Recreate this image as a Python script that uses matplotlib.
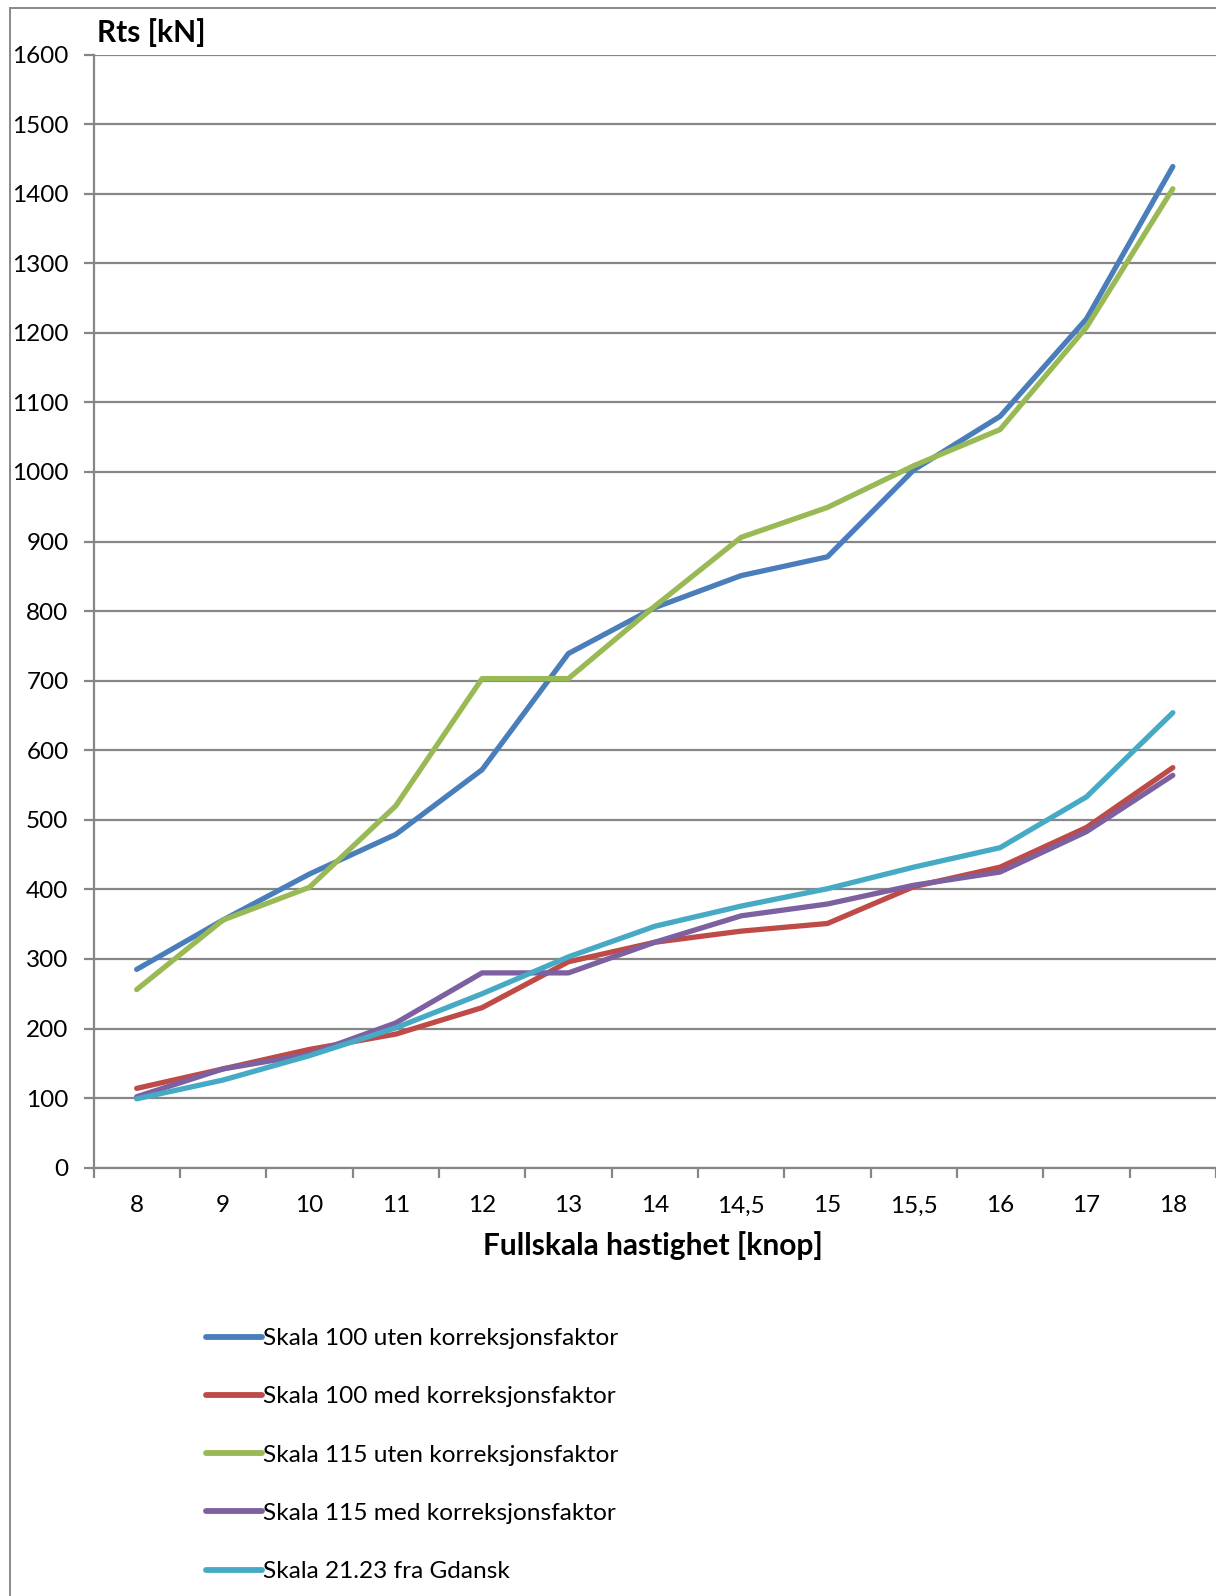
import matplotlib.pyplot as plt
from matplotlib.lines import Line2D

plt.rcParams['font.family'] = ['Lato', 'DejaVu Sans']

hastighet = ['8', '9', '10', '11', '12', '13', '14', '14,5', '15', '15,5', '16', '17', '18']

s100_uten = [285, 356, 422, 479, 572, 739, 805, 851, 878, 1003, 1080, 1220, 1439]
s100_med = [114, 142, 170, 192, 230, 296, 324, 340, 351, 404, 432, 489, 575]
s115_uten = [256, 356, 403, 520, 703, 703, 807, 906, 949, 1009, 1061, 1208, 1407]
s115_med = [102, 142, 163, 208, 280, 280, 324, 362, 379, 406, 425, 483, 564]
gdansk = [99, 126, 161, 201, 250, 303, 347, 376, 401, 432, 460, 533, 654]

serier = [
    ("Skala 100 uten korreksjonsfaktor", s100_uten, '#4A7EBB'),
    ("Skala 100 med korreksjonsfaktor", s100_med, '#BE4B48'),
    ("Skala 115 uten korreksjonsfaktor", s115_uten, '#98B954'),
    ("Skala 115 med korreksjonsfaktor", s115_med, '#7D60A0'),
    ("Skala 21.23 fra Gdansk", gdansk, '#46AAC5'),
]

W, H = 1216, 1596
fig = plt.figure(figsize=(W / 100, H / 100), dpi=100)
ax = fig.add_axes([93.5 / W, 1 - 1167.7 / H, 1 - 93.5 / W, (1167.7 - 54.5) / H])

x = list(range(len(hastighet)))
for navn, verdier, farge in serier:
    ax.plot(x, verdier, color=farge, lw=3.8, label=navn, solid_capstyle='round',
            solid_joinstyle='round', zorder=3)

grid_col = '#868686'
ax.set_xlim(-0.5, len(hastighet) - 0.5)
ax.set_ylim(0, 1600)
ax.set_yticks(range(0, 1601, 100))
ax.yaxis.grid(True, color=grid_col, lw=1.6)
ax.set_axisbelow(True)
ax.set_xticks(x)
ax.set_xticklabels(hastighet)
ax.set_xticks([i - 0.5 for i in range(len(hastighet) + 1)], minor=True)
ax.tick_params(axis='x', which='major', length=0, pad=20, labelsize=17.5)
ax.tick_params(axis='x', which='minor', length=7, width=1.6, color=grid_col, direction='out')
ax.tick_params(axis='y', length=7, width=1.6, color=grid_col, pad=11, labelsize=17.5)
for s in ['top', 'right']:
    ax.spines[s].set_visible(False)
for s in ['left', 'bottom']:
    ax.spines[s].set_color(grid_col)
    ax.spines[s].set_linewidth(1.6)

fig.text(97 / W, 1 - 33 / H, "Rts [kN]", fontsize=21.5, fontweight='bold', va='center', ha='left')
fig.text(653 / W, 1 - 1246 / H, "Fullskala hastighet [knop]", fontsize=21.5,
         fontweight='bold', va='center', ha='center')

# ytre ramme
fig.add_artist(Line2D([10 / W, 10 / W], [0, 1 - 7.5 / H], color='#898989', lw=1.4))
fig.add_artist(Line2D([10 / W, 1], [1 - 7.5 / H, 1 - 7.5 / H], color='#898989', lw=1.4))

leg = fig.legend(loc='upper left', bbox_to_anchor=(206 / W, 1 - 1328 / H), frameon=False,
                 fontsize=17.6, handlelength=2.3, handletextpad=0.05, labelspacing=1.52,
                 borderaxespad=0, borderpad=0)
for h in leg.legend_handles:
    h.set_linewidth(4.2)

fig.savefig('out.png', dpi=100)
